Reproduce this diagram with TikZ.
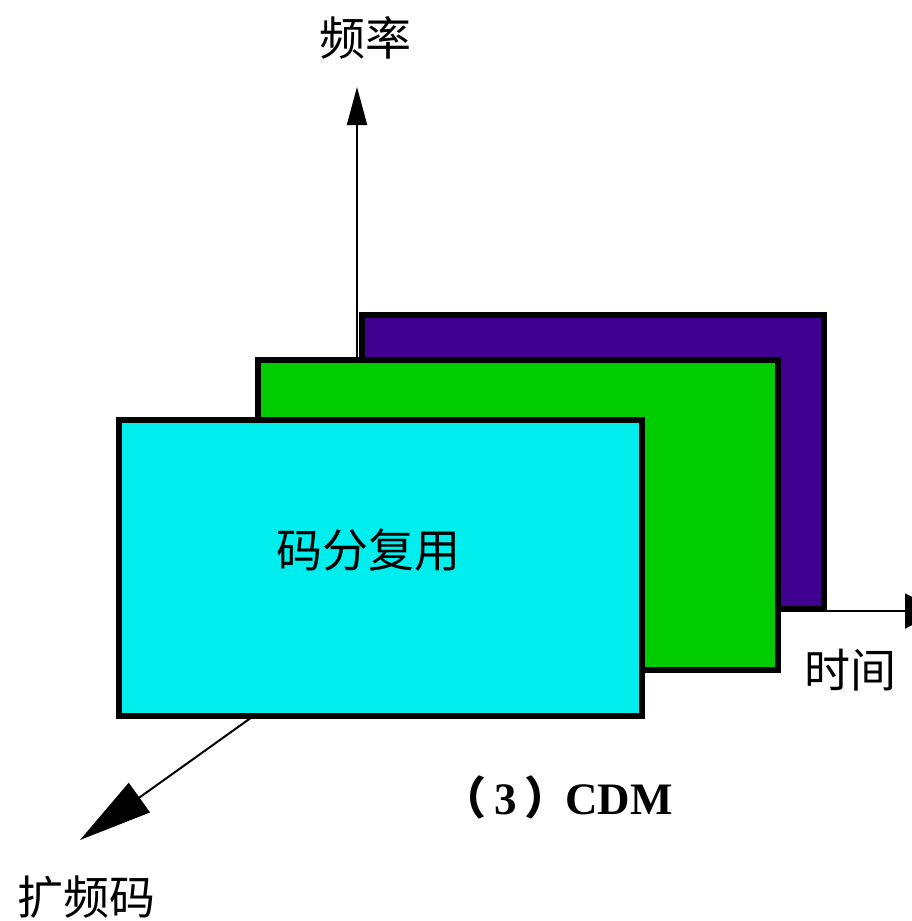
\documentclass[tikz,border=0pt]{standalone}
\usepackage{fontspec}
\setmainfont{Liberation Serif}
\newfontfamily\cjk{Noto Sans CJK SC}
\newfontfamily\cjkp[RawFeature=+palt]{Noto Sans CJK SC}
\usepackage{tikz}
\usetikzlibrary{arrows.meta, positioning}
\definecolor{codepurple}{RGB}{64,0,144}
\definecolor{codegreen}{RGB}{0,204,0}
\definecolor{codecyan}{RGB}{0,238,238}
\begin{document}
\begin{tikzpicture}[x=1pt, y=-1pt]
      \tikzstyle{every node}=[inner sep=0pt, outer sep=0pt]
      \tikzstyle{plane}=[draw=black, line width=6pt]
      \tikzstyle{axis}=[line width=2pt]
      \tikzstyle{label}=[font=\cjk\fontsize{46}{50}\selectfont]
      \useasboundingbox (0,0) rectangle (911,921);
      % axes
      \coordinate (origin) at (357,611);
      \coordinate (freqend) at (357,87);
      \coordinate (timeend) at (940,611);
      \coordinate (codestart) at (357,642);
      \coordinate (codeend) at (80,840);
      \draw [axis, -{Triangle[length=38pt, width=20pt]}] (origin) -- (freqend);
      \draw [axis, -{Triangle[length=35pt, width=35pt]}] (origin) -- (timeend);
      \draw [axis, -{Triangle[length=73pt, width=36pt]}] (codestart) -- (codeend);
      % planes
      \node (back) [plane, fill=codepurple, minimum width=462pt, minimum height=294pt] at (593,462) {};
      \node (middle) [plane, fill=codegreen, minimum width=520pt, minimum height=310pt] at (518,515) {};
      \node (front) [plane, fill=codecyan, minimum width=523pt, minimum height=296pt] at (380.5,568) {};
      % labels
      \node (freq) [label] at (365,38) {频率};
      \node (time) [label] at (850,670) {时间};
      \node (code) [label] at (86,897) {扩频码};
      \node (cdm) [label] at (368,550) {码分复用};
      \node (caption) [font=\fontsize{45}{48}\selectfont\bfseries] at (567,797)
        {{\cjkp （}\hspace{10pt}3\hspace{10pt}{\cjkp ）}\hspace{16pt}CDM};
    \end{tikzpicture}
\end{document}
